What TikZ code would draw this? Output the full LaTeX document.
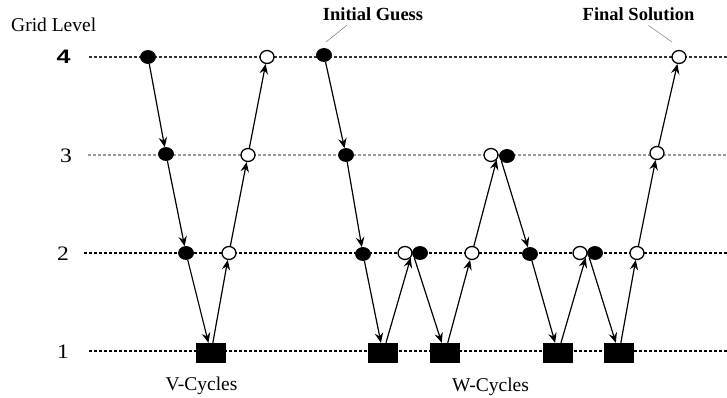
\documentclass[tikz,border=0pt]{standalone}
\usepackage{fontspec}
\setmainfont{Liberation Serif}
\newfontfamily\levelsans{Liberation Sans}
\usetikzlibrary{arrows.meta,shapes.geometric}

\tikzset{
  lvl/.style={line width=1.2pt, dash pattern=on 3pt off 2pt},
  fdot/.style={ellipse, fill=black, draw=black, line width=0.8pt, inner sep=0pt,
               minimum width=15pt, minimum height=13pt},
  odot/.style={ellipse, fill=white, draw=black, line width=1.3pt, inner sep=0pt,
               minimum width=14pt, minimum height=13pt},
  coarse/.style={rectangle, fill=black, inner sep=0pt, minimum width=30pt, minimum height=20pt},
  flow/.style={line width=1.2pt, -{Stealth[length=10pt,width=8.5pt,inset=3.5pt]}},
  leader/.style={draw=black!45, line width=0.6pt},
  txt/.style={font=\fontsize{19.5}{22}\selectfont, inner sep=0pt},
  callout/.style={font=\bfseries\fontsize{18.5}{21}\selectfont, inner sep=0pt},
  numlab/.style={font=\fontsize{20.5}{24}\selectfont, inner sep=0pt, anchor=base,
                 transform shape, xscale=1.15},
}

\begin{document}
\begin{tikzpicture}[x=1pt, y=-1pt]
  \useasboundingbox (0,0) rectangle (727,398);

  % grid level lines
  \draw[lvl, black!80] (89,57) -- (727,57);
  \draw[lvl, black!40] (88,155) -- (727,155);
  \draw[lvl, black] (84,253) -- (727,253);
  \draw[lvl, black] (89,351) -- (727,351);

  % axis labels
  \node[txt, anchor=base west] (glabel) at (11,32) {Grid Level};
  \node[numlab, xscale=1.12, font=\levelsans\bfseries\fontsize{19.5}{21}\selectfont] (l4) at (63.5,64) {4};
  \node[numlab] (l3) at (66,162.5) {3};
  \node[numlab] (l2) at (63,260.5) {2};
  \node[numlab] (l1) at (63,358.5) {1};

  % V-cycle
  \node[fdot] (v1) at (148,57) {};
  \node[fdot] (v2) at (166,154) {};
  \node[fdot] (v3) at (186,253) {};
  \node[coarse] (v4) at (211,353) {};
  \node[odot] (v5) at (229,253) {};
  \node[odot] (v6) at (248,155) {};
  \node[odot] (v7) at (267,57) {};

  \draw[flow] (v1) -- (v2);
  \draw[flow] (v2) -- (v3);
  \draw[flow] (v3) -- (v4);
  \draw[flow] (v4) -- (v5);
  \draw[flow] (v5) -- (v6);
  \draw[flow] (v6) -- (v7);

  % W-cycle
  \node[fdot] (w1) at (324,55) {};
  \node[fdot] (w2) at (346,155) {};
  \node[fdot] (w3) at (363,254) {};
  \node[coarse] (s1) at (383,353) {};
  \node[odot] (p1o) at (405,253) {};
  \node[fdot] (p1f) at (420,253) {};
  \node[coarse] (s2) at (445,353) {};
  \node[odot] (w4) at (472,253) {};
  \node[odot] (p2o) at (491,155) {};
  \node[fdot] (p2f) at (507,156) {};
  \node[fdot] (w5) at (530,254) {};
  \node[coarse] (s3) at (558,353) {};
  \node[odot] (p3o) at (580,253) {};
  \node[fdot] (p3f) at (595,253) {};
  \node[coarse] (s4) at (619,353) {};
  \node[odot] (w6) at (637,253) {};
  \node[odot] (w7) at (657,153) {};
  \node[odot] (w8) at (679,57) {};

  \draw[flow] (w1) -- (w2);
  \draw[flow] (w2) -- (w3);
  \draw[flow] (w3) -- (s1);
  \draw[flow] (s1) -- (p1o.-40);
  \draw[flow] (p1f.-140) -- (s2);
  \draw[flow] (s2) -- (w4);
  \draw[flow] (w4) -- (p2o.-40);
  \draw[flow] (p2f.-140) -- (w5);
  \draw[flow] (w5) -- (s3);
  \draw[flow] (s3) -- (p3o.-40);
  \draw[flow] (p3f.-140) -- (s4);
  \draw[flow] (s4) -- (w6);
  \draw[flow] (w6) -- (w7);
  \draw[flow] (w7) -- (w8);

  % callouts
  \node[callout, anchor=base] (init) at (373,21) {Initial Guess};
  \node[callout, anchor=base] (final) at (638.5,21) {Final Solution};
  \coordinate (initend) at (326,42);
  \coordinate (finalend) at (672,42);
  \draw[leader] (init.south west) ++(24,4) -- (initend);
  \draw[leader] (final.south) ++(10,4) -- (finalend);

  % cycle captions
  \node[txt, anchor=base] (vcap) at (201.5,390) {V-Cycles};
  \node[txt, anchor=base] (wcap) at (490.5,391) {W-Cycles};
\end{tikzpicture}
\end{document}
